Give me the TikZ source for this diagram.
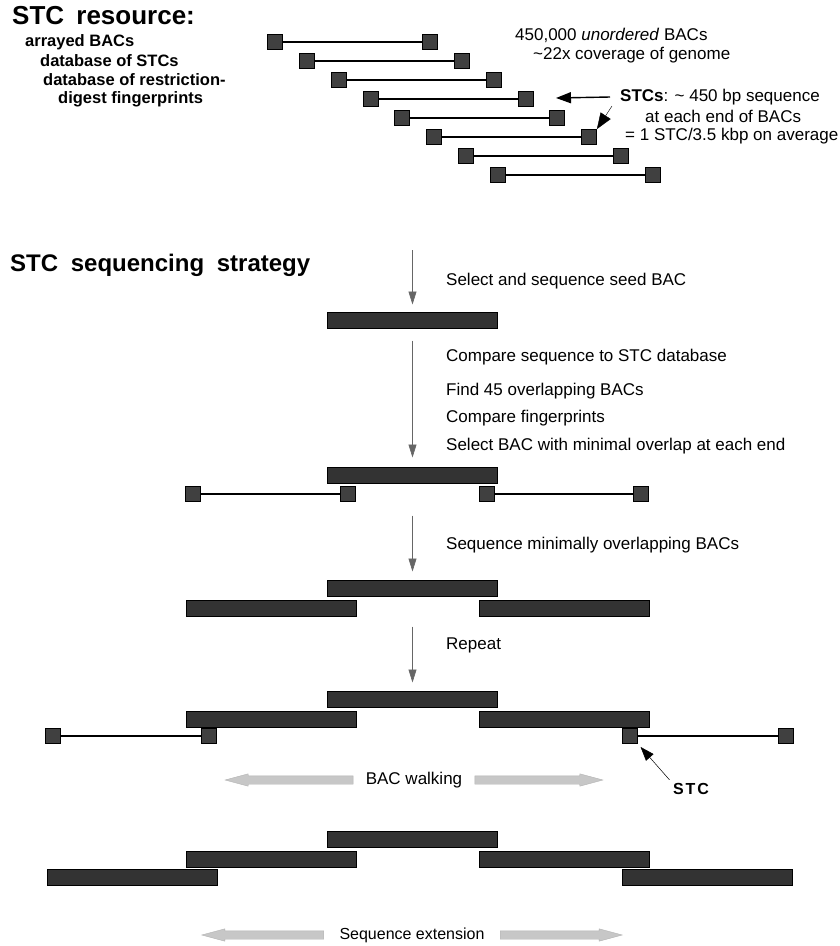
\documentclass[tikz,border=0pt]{standalone}
\usepackage{fontspec}
\setmainfont{Liberation Sans}
\usetikzlibrary{positioning}
\usetikzlibrary{arrows.meta}
\usetikzlibrary{shapes.arrows}

\begin{document}
\begin{tikzpicture}[x=1pt,y=-1pt]
	\tikzset{
		bacend/.style={rectangle, draw=black, fill=black!75, line width=0.8pt, minimum size=15pt, inner sep=0pt},
		seqbar/.style={rectangle, draw=black, fill=black!80, line width=1pt, minimum width=170pt, minimum height=16pt, inner sep=0pt},
		bacline/.style={line width=1.7pt},
		stepnote/.style={anchor=west, inner sep=0pt, font=\fontsize{17}{20}\selectfont},
		resnote/.style={anchor=west, inner sep=0pt, font=\bfseries\fontsize{16.5}{20}\selectfont},
		headline/.style={anchor=west, inner sep=0pt, font=\bfseries\fontsize{24}{28}\selectfont},
		steparrow/.style={draw=black!60, line width=0.7pt, -{Triangle[length=13pt,width=8pt]}},
		walkarrow/.style={single arrow, draw=black!30, fill=black!22, inner xsep=0pt, inner ysep=4pt, minimum height=128pt, single arrow head extend=2pt, single arrow tip angle=30},
	}
	\useasboundingbox (0,0) rectangle (839,946);

	% STC resource
	\node[headline, font=\bfseries\fontsize{26}{30}\selectfont] (resource) at (12,16) {STC\hspace{5pt} resource:};
	\node[resnote] (arrayed) at (25,42) {arrayed BACs};
	\node[resnote] (dbstc) at (40,61) {database of STCs};
	\node[resnote] (dbfinger) at (43,80) {database of restriction-};
	\node[resnote] (digest) at (58,99) {digest fingerprints};

	\foreach \i in {1,...,8} {
		\node[bacend] (topL\i) at ({275+31.8*(\i-1)}, {42+19*(\i-1)}) {};
		\node[bacend] (topR\i) at ({430+31.8*(\i-1)}, {42+19*(\i-1)}) {};
		\draw[bacline] (topL\i) -- (topR\i);
	}

	\node[stepnote] (count) at (515,35) {450,000 \textit{unordered} BACs};
	\node[stepnote] (cover) at (533,55) {\textasciitilde22x coverage of genome};
	\node[stepnote] (stcdef) at (620,97) {\textbf{STCs}: \textasciitilde{} 450 bp sequence};
	\node[stepnote] (stcend) at (645,116) {at each end of BACs};
	\node[stepnote] (stcavg) at (625,136) {= 1 STC/3.5 kbp on average};

	\coordinate (stctip) at (556,98);
	\coordinate (stcfoot) at (612,106);
	\draw[line width=1.4pt, -{Triangle[length=15pt,width=11pt]}] ([xshift=-10pt]stcdef.west) -- (stctip);
	\draw[line width=0.4pt, -{Triangle[length=16pt,width=12pt]}] (stcfoot) -- (topR6.north east);

	% STC sequencing strategy
	\node[headline] (strategy) at (10,265) {STC\hspace{6pt} sequencing\hspace{6pt} strategy};

	\coordinate (begin) at (412.5,250);
	\node[seqbar] (seed) at (412.5,320) {};
	\draw[steparrow, shorten >=7pt] (begin) -- (seed.north);

	\node[stepnote] (select) at (446,281) {Select and sequence seed BAC};
	\node[stepnote] (compare) at (446,357) {Compare sequence to STC database};
	\node[stepnote] (find) at (446,391) {Find 45 overlapping BACs};
	\node[stepnote] (finger) at (446,418) {Compare fingerprints};
	\node[stepnote] (minimal) at (446,446) {Select BAC with minimal overlap at each end};

	\node[seqbar] (midA) at (412.5,475) {};
	\node[bacend] (leftAo) at (193,494) {};
	\node[bacend] (leftAi) at (348,494) {};
	\node[bacend] (rightAi) at (487,494) {};
	\node[bacend] (rightAo) at (641,494) {};
	\draw[bacline] (leftAo) -- (leftAi);
	\draw[bacline] (rightAi) -- (rightAo);
	\draw[steparrow, shorten <=12pt, shorten >=9pt] (seed.south) -- (midA.north);

	\node[stepnote] (seqmin) at (446,545) {Sequence minimally overlapping BACs};

	\node[seqbar] (midB) at (412.5,588) {};
	\node[seqbar] (leftB) at (271,608) {};
	\node[seqbar] (rightB) at (564,608) {};
	\draw[steparrow, shorten <=32pt, shorten >=8pt] (midA.south) -- (midB.north);

	\node[stepnote] (repeat) at (446,645) {Repeat};

	\node[seqbar] (midC) at (412.5,699) {};
	\node[seqbar] (leftC) at (271,719) {};
	\node[seqbar] (rightC) at (564,719) {};
	\node[bacend] (leftCo) at (53,736) {};
	\node[bacend] (leftCi) at (209,736) {};
	\node[bacend] (rightCi) at (630,736) {};
	\node[bacend] (rightCo) at (786,736) {};
	\draw[bacline] (leftCo) -- (leftCi);
	\draw[bacline] (rightCi) -- (rightCo);
	\draw[steparrow, shorten <=30pt, shorten >=8pt] (midB.south) -- (midC.north);

	\node[font=\fontsize{17}{20}\selectfont] (walk) at (414,780) {BAC walking};
	\node[walkarrow, shape border rotate=180, left=9pt of walk] (walkL) {};
	\node[walkarrow, right=9pt of walk] (walkR) {};

	\node[font=\bfseries\fontsize{16}{18}\selectfont] (stclabel) at (691,789) {S\hspace{2pt}T\hspace{2pt}C};
	\draw[line width=0.5pt, -{Triangle[length=14pt,width=10pt]}, shorten >=4pt] (stclabel.north west) -- (rightCi.south east);

	\node[seqbar] (midD) at (412.5,839) {};
	\node[seqbar] (leftD) at (271,859) {};
	\node[seqbar] (rightD) at (564,859) {};
	\node[seqbar] (farleftD) at (132,877) {};
	\node[seqbar] (farrightD) at (707.5,877) {};

	\node[font=\fontsize{16}{20}\selectfont] (extend) at (412,935) {Sequence extension};
	\node[walkarrow, shape border rotate=180, left=12pt of extend, minimum height=122pt] (extendL) {};
	\node[walkarrow, right=12pt of extend, minimum height=122pt] (extendR) {};
\end{tikzpicture}
\end{document}
